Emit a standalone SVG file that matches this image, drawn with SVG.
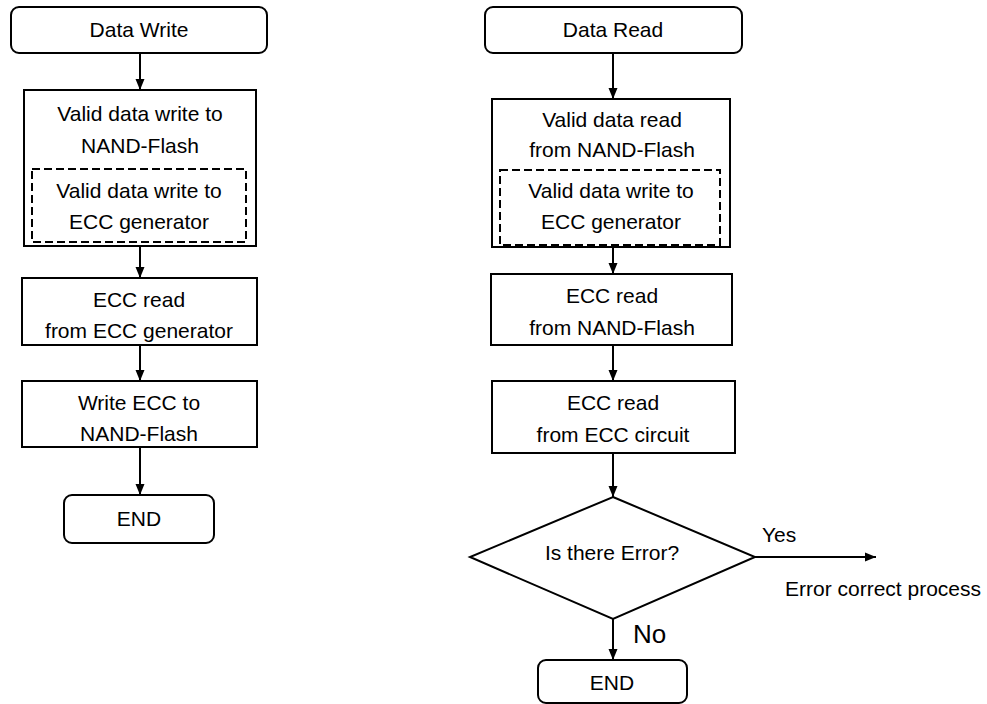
<svg xmlns="http://www.w3.org/2000/svg" width="987" height="704" viewBox="0 0 987 704">
<style>
.box{fill:#fff;stroke:#000;stroke-width:2}
.dash{fill:none;stroke:#000;stroke-width:2;stroke-dasharray:8 4}
.t{font-family:"Liberation Sans",Arial,sans-serif;font-size:21px;fill:#000;text-anchor:middle}
.l{font-family:"Liberation Sans",Arial,sans-serif;font-size:21px;fill:#000}
.c{fill:none;stroke:#000;stroke-width:2;marker-end:url(#ah)}
</style>
<defs>
<marker id="ah" markerUnits="userSpaceOnUse" markerWidth="12" markerHeight="12" viewBox="0 0 12 12" refX="11" refY="6" orient="auto">
<path d="M0,1.5 L11,6 L0,10.5 Z" fill="#000"/>
</marker>
</defs>
<rect width="987" height="704" fill="#fff"/>
<g id="connectors">
<line class="c" x1="140" y1="53" x2="140" y2="90"/>
<line class="c" x1="140" y1="246" x2="140" y2="278"/>
<line class="c" x1="140" y1="345" x2="140" y2="381"/>
<line class="c" x1="140" y1="447" x2="140" y2="495"/>
<line class="c" x1="613" y1="53" x2="613" y2="99"/>
<line class="c" x1="613" y1="247" x2="613" y2="274"/>
<line class="c" x1="613" y1="345" x2="613" y2="381"/>
<line class="c" x1="613" y1="453" x2="613" y2="497"/>
<line class="c" x1="755" y1="557" x2="876" y2="557"/>
<line class="c" x1="613" y1="619" x2="613" y2="660"/>
<text class="l" x="762" y="542">Yes</text>
<text class="l" x="785" y="596">Error correct process</text>
<text class="l" x="633" y="643" style="font-size:26px">No</text>
</g>
<g id="w_start">
<rect class="box" x="11" y="7" width="256" height="46" rx="8"/>
<text class="t" x="139" y="37">Data Write</text>
</g>
<g id="w_valid">
<rect class="box" x="24" y="90" width="232" height="156"/>
<text class="t" x="140" y="121">Valid data write to</text>
<text class="t" x="140" y="153">NAND-Flash</text>
</g>
<g id="w_ecc_gen">
<rect class="dash" x="32" y="169" width="214" height="73"/>
<text class="t" x="139" y="198">Valid data write to</text>
<text class="t" x="139" y="229">ECC generator</text>
</g>
<g id="w_ecc_read">
<rect class="box" x="22" y="278" width="235" height="67"/>
<text class="t" x="139" y="307">ECC read</text>
<text class="t" x="139" y="338">from ECC generator</text>
</g>
<g id="w_write_ecc">
<rect class="box" x="22" y="381" width="235" height="66"/>
<text class="t" x="139" y="410">Write ECC to</text>
<text class="t" x="139" y="441">NAND-Flash</text>
</g>
<g id="w_end">
<rect class="box" x="64" y="495" width="150" height="48" rx="8"/>
<text class="t" x="139" y="526">END</text>
</g>
<g id="r_start">
<rect class="box" x="485" y="7" width="257" height="46" rx="8"/>
<text class="t" x="613" y="37">Data Read</text>
</g>
<g id="r_valid">
<rect class="box" x="492" y="99" width="238" height="148"/>
<text class="t" x="612" y="127">Valid data read</text>
<text class="t" x="612" y="157">from NAND-Flash</text>
</g>
<g id="r_ecc_gen">
<rect class="dash" x="500" y="170" width="220" height="75"/>
<text class="t" x="611" y="198">Valid data write to</text>
<text class="t" x="611" y="229">ECC generator</text>
</g>
<g id="r_ecc_nand">
<rect class="box" x="491" y="274" width="241" height="71"/>
<text class="t" x="612" y="303">ECC read</text>
<text class="t" x="612" y="335">from NAND-Flash</text>
</g>
<g id="r_ecc_circuit">
<rect class="box" x="492" y="381" width="243" height="72"/>
<text class="t" x="613" y="410">ECC read</text>
<text class="t" x="613" y="442">from ECC circuit</text>
</g>
<g id="r_decision">
<polygon class="box" points="613,497 755,557 613,619 470,557"/>
<text class="t" x="612" y="560">Is there Error?</text>
</g>
<g id="r_end">
<rect class="box" x="538" y="660" width="149" height="43" rx="8"/>
<text class="t" x="612" y="690">END</text>
</g>
</svg>
